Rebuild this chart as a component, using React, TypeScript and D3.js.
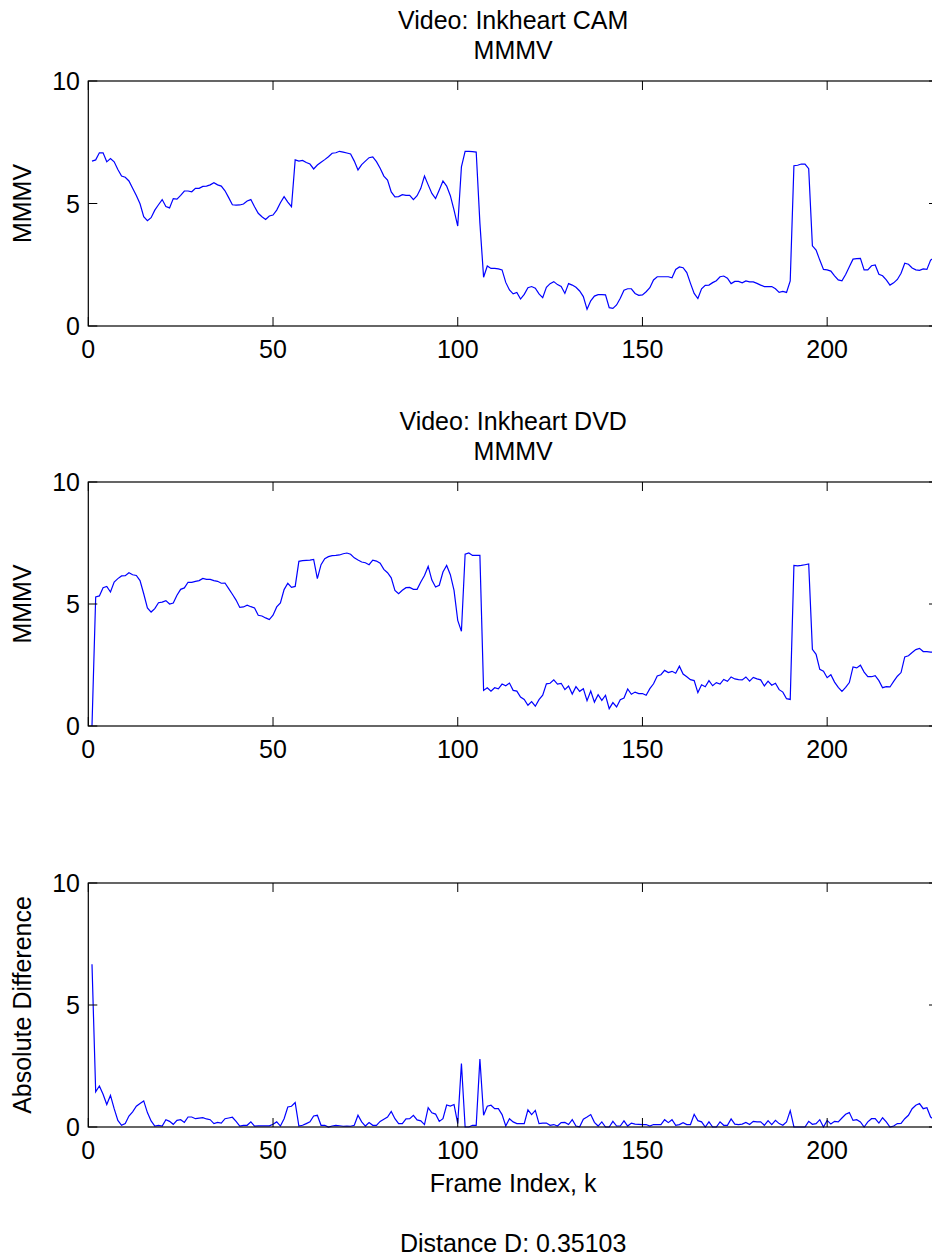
import React from "react";
import * as d3 from "d3";

const camTitle = ["Video: Inkheart CAM", "MMMV"];
const dvdTitle = ["Video: Inkheart DVD", "MMMV"];
const xTicks = [0, 50, 100, 150, 200];
const yTicks = [0, 5, 10];

const camMMMV = [
  6.73, 6.78, 7.07, 7.07, 6.70, 6.83, 6.70, 6.39, 6.12, 6.07,
  5.92, 5.62, 5.33, 4.99, 4.46, 4.30, 4.42, 4.73, 4.95, 5.16,
  4.88, 4.82, 5.20, 5.18, 5.33, 5.51, 5.51, 5.48, 5.62, 5.62,
  5.70, 5.71, 5.76, 5.85, 5.76, 5.71, 5.52, 5.24, 4.95, 4.93,
  4.94, 4.98, 5.10, 5.16, 4.87, 4.60, 4.46, 4.35, 4.49, 4.53,
  4.73, 5.03, 5.28, 5.06, 4.87, 6.78, 6.73, 6.76, 6.67, 6.61,
  6.41, 6.57, 6.68, 6.79, 6.91, 7.05, 7.07, 7.13, 7.10, 7.06,
  7.02, 6.73, 6.37, 6.59, 6.73, 6.87, 6.90, 6.71, 6.44, 6.12,
  5.96, 5.47, 5.27, 5.28, 5.36, 5.33, 5.33, 5.16, 5.32, 5.62,
  6.12, 5.76, 5.41, 5.20, 5.55, 5.92, 5.71, 5.32, 4.73, 4.08,
  6.50, 7.13, 7.13, 7.12, 7.10, 4.20, 1.99, 2.45, 2.35, 2.35,
  2.33, 2.29, 1.78, 1.47, 1.31, 1.37, 1.10, 1.29, 1.56, 1.61,
  1.54, 1.31, 1.16, 1.58, 1.73, 1.81, 1.69, 1.61, 1.33, 1.73,
  1.67, 1.58, 1.43, 1.20, 0.68, 1.03, 1.22, 1.28, 1.28, 1.27,
  0.75, 0.72, 0.86, 1.13, 1.46, 1.52, 1.52, 1.33, 1.25, 1.27,
  1.40, 1.56, 1.88, 2.01, 2.01, 2.01, 2.01, 1.97, 2.31, 2.41,
  2.38, 2.18, 1.74, 1.33, 1.12, 1.52, 1.66, 1.67, 1.77, 1.85,
  2.01, 2.04, 1.95, 1.73, 1.82, 1.82, 1.76, 1.84, 1.80, 1.80,
  1.74, 1.67, 1.61, 1.61, 1.61, 1.52, 1.37, 1.41, 1.37, 1.84,
  6.54, 6.56, 6.61, 6.61, 6.42, 3.27, 3.10, 2.69, 2.31, 2.29,
  2.24, 2.05, 1.88, 1.84, 2.10, 2.42, 2.73, 2.75, 2.76, 2.29,
  2.29, 2.46, 2.49, 2.11, 2.05, 1.88, 1.67, 1.76, 1.90, 2.15,
  2.56, 2.52, 2.37, 2.29, 2.27, 2.33, 2.31, 2.69, 2.78,
];

const dvdMMMV = [
  0.00, 5.29, 5.33, 5.67, 5.72, 5.49, 5.90, 6.04, 6.15, 6.16,
  6.28, 6.20, 6.17, 5.96, 5.42, 4.84, 4.67, 4.81, 5.05, 5.08,
  5.14, 5.00, 5.04, 5.36, 5.60, 5.66, 5.89, 5.89, 5.93, 5.96,
  6.05, 6.01, 6.01, 5.96, 5.93, 5.85, 5.86, 5.63, 5.40, 5.16,
  4.86, 4.88, 4.95, 4.89, 4.84, 4.54, 4.51, 4.43, 4.36, 4.54,
  4.88, 5.04, 5.59, 5.85, 5.68, 5.72, 6.75, 6.78, 6.79, 6.80,
  6.83, 6.04, 6.61, 6.86, 6.94, 6.98, 6.99, 7.01, 7.06, 7.09,
  7.04, 6.89, 6.80, 6.72, 6.69, 6.61, 6.80, 6.76, 6.67, 6.42,
  6.28, 6.07, 5.56, 5.42, 5.56, 5.67, 5.68, 5.60, 5.60, 5.90,
  6.17, 6.54, 5.98, 5.70, 5.77, 6.31, 6.58, 6.20, 5.56, 4.33,
  3.88, 7.04, 7.09, 6.99, 6.99, 6.99, 1.46, 1.57, 1.43, 1.57,
  1.52, 1.72, 1.65, 1.76, 1.46, 1.43, 1.19, 1.09, 0.85, 1.00,
  0.81, 1.08, 1.26, 1.73, 1.75, 1.89, 1.72, 1.75, 1.49, 1.64,
  1.31, 1.61, 1.42, 1.53, 1.04, 1.43, 0.98, 1.28, 1.05, 1.26,
  0.71, 0.96, 0.78, 1.08, 1.15, 1.52, 1.30, 1.39, 1.33, 1.33,
  1.26, 1.53, 1.73, 2.05, 2.10, 2.28, 2.19, 2.24, 2.16, 2.45,
  2.13, 2.02, 1.90, 1.86, 1.37, 1.69, 1.61, 1.86, 1.65, 1.78,
  1.72, 1.91, 1.83, 2.01, 1.93, 1.90, 1.89, 2.01, 1.84, 1.99,
  1.93, 1.89, 1.64, 1.84, 1.67, 1.75, 1.49, 1.39, 1.12, 1.09,
  6.58, 6.56, 6.58, 6.61, 6.64, 3.14, 2.94, 2.32, 2.25, 1.98,
  2.10, 1.80, 1.58, 1.42, 1.58, 1.78, 2.42, 2.38, 2.49, 2.21,
  2.02, 2.02, 2.06, 1.86, 1.57, 1.61, 1.60, 1.83, 2.04, 2.19,
  2.83, 2.88, 3.01, 3.13, 3.18, 3.05, 3.05, 3.03, 3.03,
];

const absDiff = [
  6.67, 1.44, 1.68, 1.34, 0.92, 1.30, 0.75, 0.27, 0.07, 0.14,
  0.45, 0.62, 0.85, 0.96, 1.07, 0.59, 0.25, 0.04, 0.07, 0.04,
  0.30, 0.23, 0.11, 0.27, 0.30, 0.19, 0.41, 0.41, 0.34, 0.36,
  0.38, 0.33, 0.30, 0.14, 0.19, 0.16, 0.34, 0.37, 0.40, 0.23,
  0.04, 0.07, 0.07, 0.21, 0.04, 0.05, 0.05, 0.05, 0.05, 0.11,
  0.21, 0.04, 0.34, 0.82, 0.85, 1.00, 0.04, 0.07, 0.14, 0.21,
  0.45, 0.48, 0.07, 0.07, 0.00, 0.04, 0.07, 0.05, 0.03, 0.04,
  0.03, 0.07, 0.48, 0.21, 0.04, 0.18, 0.07, 0.07, 0.23, 0.32,
  0.41, 0.64, 0.34, 0.14, 0.14, 0.33, 0.34, 0.48, 0.29, 0.25,
  0.10, 0.79, 0.58, 0.53, 0.23, 0.34, 0.90, 0.86, 0.92, 0.14,
  2.60, 0.00, 0.00, 0.07, 0.07, 2.79, 0.48, 0.85, 0.89, 0.75,
  0.75, 0.51, 0.04, 0.34, 0.21, 0.14, 0.14, 0.14, 0.70, 0.51,
  0.68, 0.14, 0.16, 0.16, 0.07, 0.10, 0.04, 0.18, 0.19, 0.10,
  0.30, 0.04, 0.01, 0.32, 0.41, 0.51, 0.19, 0.04, 0.21, 0.00,
  0.00, 0.23, 0.04, 0.04, 0.25, 0.04, 0.16, 0.12, 0.11, 0.10,
  0.10, 0.04, 0.10, 0.10, 0.10, 0.30, 0.18, 0.30, 0.07, 0.10,
  0.18, 0.10, 0.10, 0.52, 0.26, 0.21, 0.00, 0.21, 0.00, 0.00,
  0.21, 0.07, 0.07, 0.33, 0.12, 0.10, 0.12, 0.19, 0.10, 0.23,
  0.21, 0.21, 0.07, 0.26, 0.10, 0.27, 0.14, 0.07, 0.21, 0.67,
  0.00, 0.00, 0.00, 0.00, 0.23, 0.11, 0.14, 0.30, 0.00, 0.27,
  0.12, 0.23, 0.21, 0.37, 0.52, 0.59, 0.27, 0.30, 0.21, 0.00,
  0.21, 0.34, 0.34, 0.16, 0.38, 0.21, 0.00, 0.04, 0.14, 0.15,
  0.34, 0.48, 0.75, 0.89, 0.96, 0.75, 0.79, 0.41, 0.30,
];

const xLabel = "Frame Index, k";
const distanceText = "Distance D: 0.35103";

const W = 932;
const H = 1260;
const LEFT = 88.3;
const RIGHT = 938;
const FONT = "'Liberation Sans', Arial, Helvetica, sans-serif";
const FS = 25;

type PanelProps = {
  top: number;
  bottom: number;
  values: number[];
  title?: string[];
  yLabel: string;
};

function Panel({ top, bottom, values, title, yLabel }: PanelProps) {
  const x = d3.scaleLinear().domain([0, 230]).range([LEFT, RIGHT]);
  const y = d3.scaleLinear().domain([0, 10]).range([bottom, top]);
  const line = d3
    .line<number>()
    .x((_, i) => x(i + 1))
    .y((d) => y(d));
  const tl = 9;
  const cx = (LEFT + RIGHT) / 2;
  return (
    <g>
      {title &&
        title.map((t, i) => (
          <text
            key={i}
            x={cx}
            y={top - 52 + i * 30}
            textAnchor="middle"
            fontFamily={FONT}
            fontSize={FS}
            fill="#000"
          >
            {t}
          </text>
        ))}
      <path d={line(values) || ""} fill="none" stroke="#0000ff" strokeWidth={1.2} />
      <rect
        x={LEFT}
        y={top}
        width={RIGHT - LEFT}
        height={bottom - top}
        fill="none"
        stroke="#000"
        strokeWidth={1.2}
      />
      {xTicks.map((t) => (
        <g key={"x" + t}>
          <line x1={x(t)} x2={x(t)} y1={bottom} y2={bottom - tl} stroke="#000" strokeWidth={1} />
          <line x1={x(t)} x2={x(t)} y1={top} y2={top + tl} stroke="#000" strokeWidth={1} />
          <text
            x={x(t)}
            y={bottom + 32}
            textAnchor="middle"
            fontFamily={FONT}
            fontSize={FS}
            fill="#000"
          >
            {t}
          </text>
        </g>
      ))}
      {yTicks.map((t) => (
        <g key={"y" + t}>
          <line x1={LEFT} x2={LEFT + tl} y1={y(t)} y2={y(t)} stroke="#000" strokeWidth={1} />
          <line x1={RIGHT} x2={RIGHT - tl} y1={y(t)} y2={y(t)} stroke="#000" strokeWidth={1} />
          <text
            x={80}
            y={y(t)}
            dy="0.36em"
            textAnchor="end"
            fontFamily={FONT}
            fontSize={FS}
            fill="#000"
          >
            {t}
          </text>
        </g>
      ))}
      <text
        transform={`translate(22,${(top + bottom) / 2}) rotate(-90)`}
        dy="0.36em"
        textAnchor="middle"
        fontFamily={FONT}
        fontSize={FS}
        fill="#000"
      >
        {yLabel}
      </text>
    </g>
  );
}

export default function App() {
  const cx = (LEFT + RIGHT) / 2;
  return (
    <svg
      width={W}
      height={H}
      viewBox={`0 0 ${W} ${H}`}
      style={{ position: "absolute", left: 0, top: 0, background: "#fff" }}
    >
      <rect x={0} y={0} width={W} height={H} fill="#fff" />
      <Panel top={81} bottom={326} values={camMMMV} title={camTitle} yLabel="MMMV" />
      <Panel top={482} bottom={726} values={dvdMMMV} title={dvdTitle} yLabel="MMMV" />
      <Panel top={883} bottom={1127} values={absDiff} yLabel="Absolute Difference" />
      <text x={cx} y={1192} textAnchor="middle" fontFamily={FONT} fontSize={FS} fill="#000">
        {xLabel}
      </text>
      <text x={cx} y={1252} textAnchor="middle" fontFamily={FONT} fontSize={FS} fill="#000">
        {distanceText}
      </text>
    </svg>
  );
}
